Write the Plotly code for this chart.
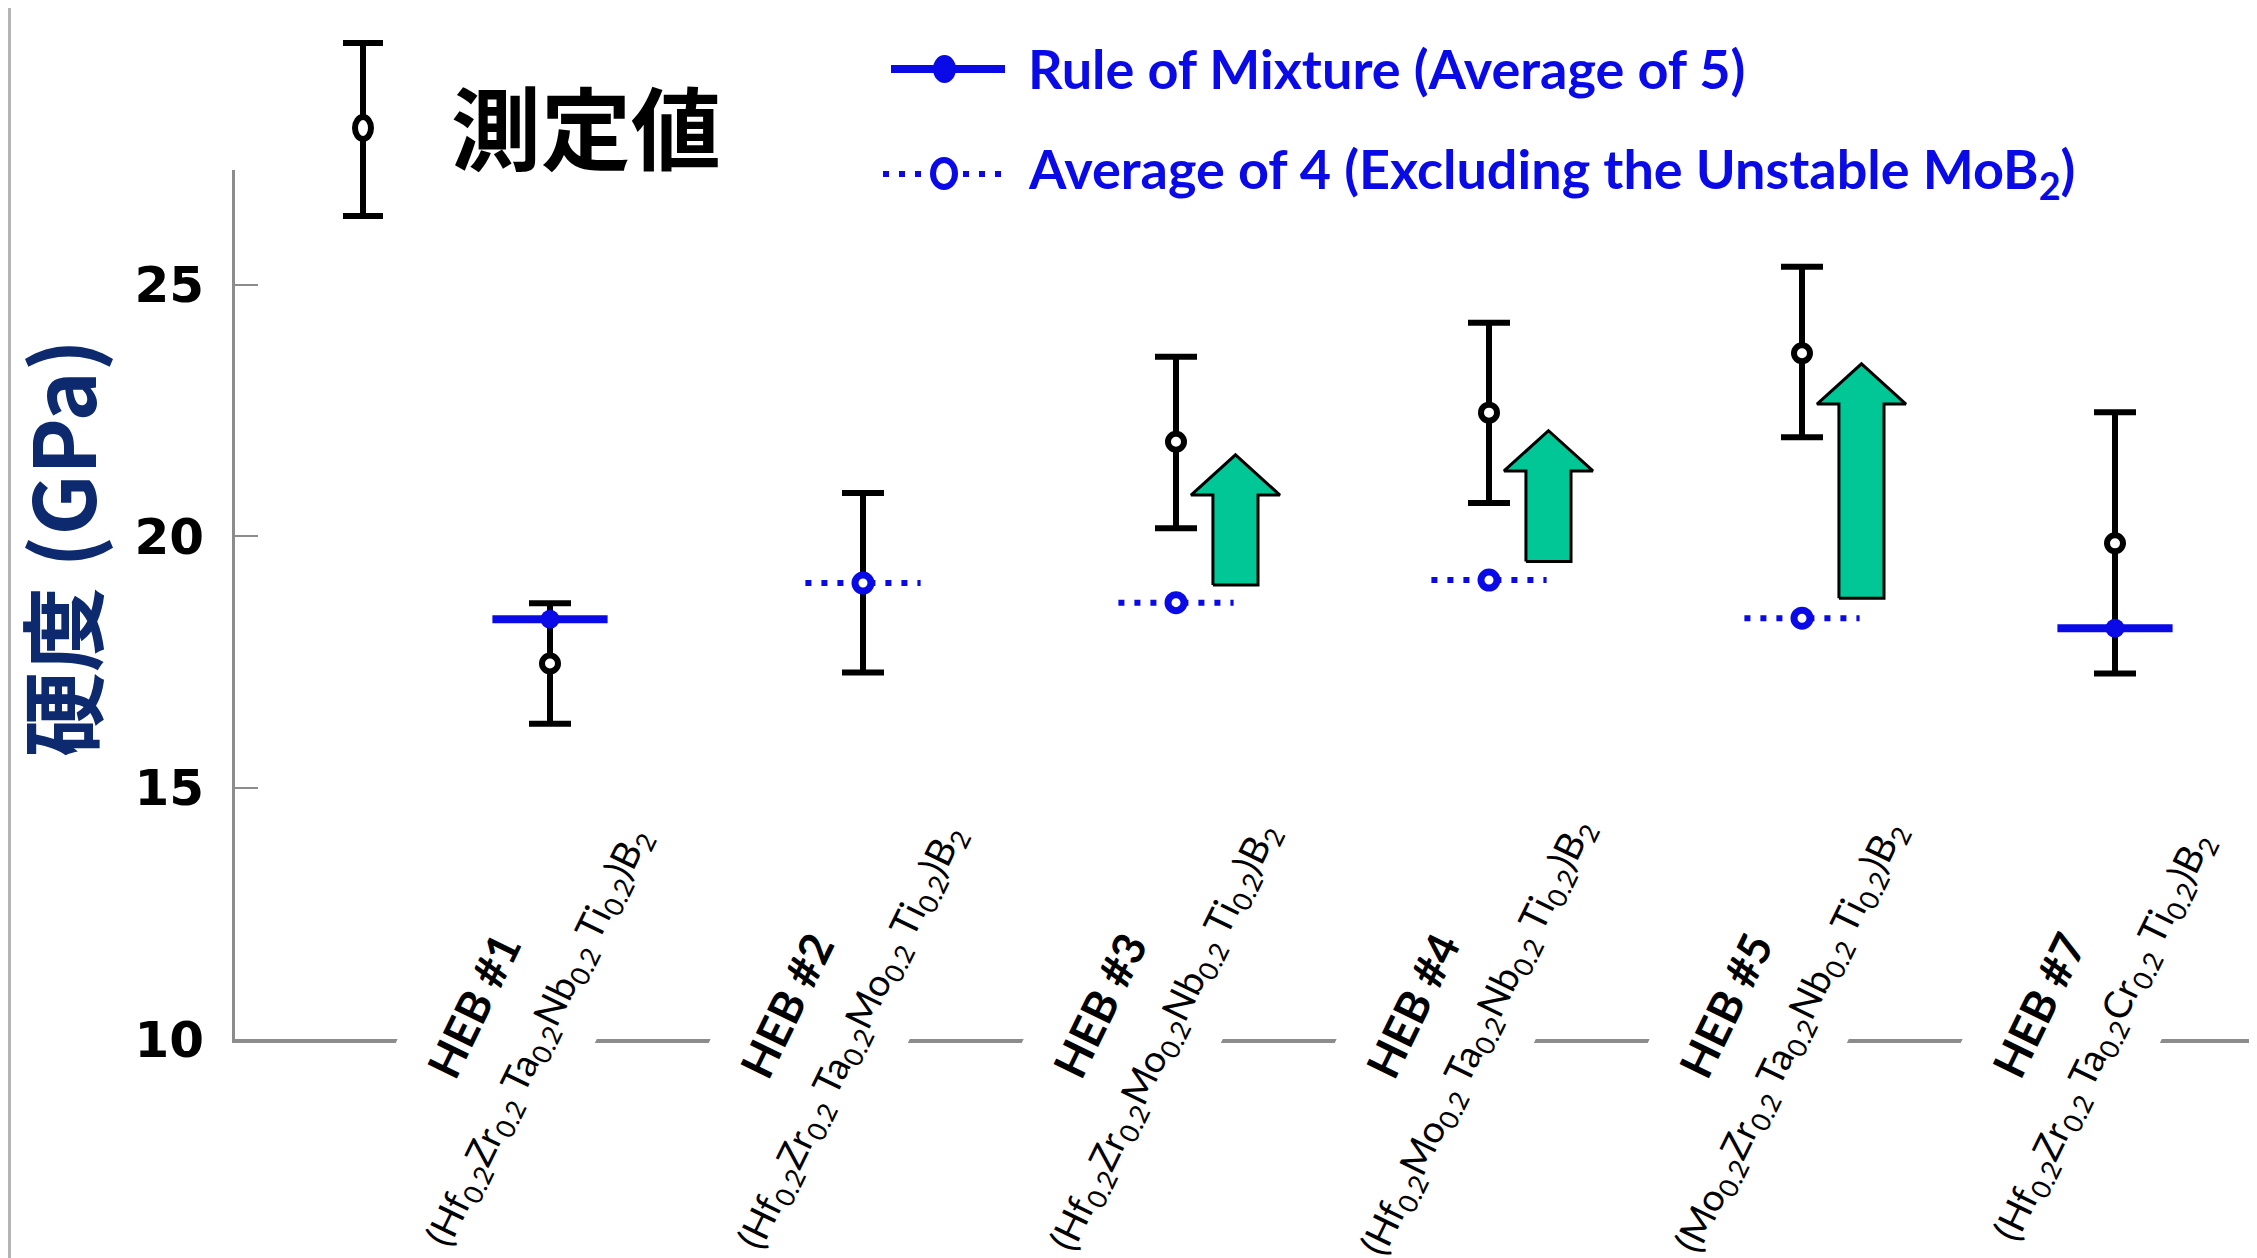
import plotly.graph_objects as go

# ---------------- data ----------------
categories = ["HEB #1", "HEB #2", "HEB #3", "HEB #4", "HEB #5", "HEB #7"]
formulas = [
    "(Hf<sub>0.2</sub>Zr<sub>0.2</sub> Ta<sub>0.2</sub>Nb<sub>0.2</sub> Ti<sub>0.2</sub>)B<sub>2</sub>",
    "(Hf<sub>0.2</sub>Zr<sub>0.2</sub> Ta<sub>0.2</sub>Mo<sub>0.2</sub> Ti<sub>0.2</sub>)B<sub>2</sub>",
    "(Hf<sub>0.2</sub>Zr<sub>0.2</sub>Mo<sub>0.2</sub>Nb<sub>0.2</sub> Ti<sub>0.2</sub>)B<sub>2</sub>",
    "(Hf<sub>0.2</sub>Mo<sub>0.2</sub> Ta<sub>0.2</sub>Nb<sub>0.2</sub> Ti<sub>0.2</sub>)B<sub>2</sub>",
    "(Mo<sub>0.2</sub>Zr<sub>0.2</sub> Ta<sub>0.2</sub>Nb<sub>0.2</sub> Ti<sub>0.2</sub>)B<sub>2</sub>",
    "(Hf<sub>0.2</sub>Zr<sub>0.2</sub> Ta<sub>0.2</sub>Cr<sub>0.2</sub> Ti<sub>0.2</sub>)B<sub>2</sub>",
]
measured = [17.47, 19.07, 21.88, 22.46, 23.64, 19.86]
measured_upper = [18.67, 20.86, 23.57, 24.25, 25.36, 22.47]
measured_lower = [16.27, 17.29, 20.16, 20.66, 21.97, 17.27]
rule_of_mixture = [18.35, None, None, None, None, 18.17]
average_of_4 = [None, 19.07, 18.68, 19.13, 18.37, None]
arrow_base = [None, None, 19.03, 19.50, 18.77, None]
arrow_tip = [None, None, 21.62, 22.10, 23.43, None]
y_ticks = [10, 15, 20, 25]

# ---------------- styling ----------------
OFF = 8                      # page body margin
W, H = 2257 - OFF, 1258 - OFF
PL, PT, PB = 235 - OFF, 170 - OFF, 1039 - OFF   # plot area (figure px)
PX_PER_X = 313.0
PX_PER_Y = 50.27
BLUE = "#0A0AE6"
GREEN = "#00C795"
GRAY = "#8C8C8C"
SEG = 0.184
ARR_DX, ARR_SW, ARR_HW, ARR_HH = 0.19, 0.072, 0.142, 0.80

xs = list(range(1, len(categories) + 1))

fig = go.Figure()

# arrows
for c, b, t in zip(xs, arrow_base, arrow_tip):
    if b is None:
        continue
    cx = c + ARR_DX
    px = [cx - ARR_SW, cx - ARR_SW, cx - ARR_HW, cx, cx + ARR_HW, cx + ARR_SW, cx + ARR_SW, cx - ARR_SW]
    py = [b, t - ARR_HH, t - ARR_HH, t, t - ARR_HH, t - ARR_HH, b, b]
    fig.add_trace(go.Scatter(x=px, y=py, mode="lines", fill="toself", fillcolor=GREEN,
                             line=dict(color="black", width=3), hoverinfo="skip", showlegend=False))

# measured values with error bars
fig.add_trace(go.Scatter(
    x=xs, y=measured, mode="markers", showlegend=False,
    marker=dict(symbol="circle", size=16, color="white", line=dict(color="black", width=6)),
    error_y=dict(type="data", symmetric=False,
                 array=[u - m for u, m in zip(measured_upper, measured)],
                 arrayminus=[m - l for m, l in zip(measured, measured_lower)],
                 color="black", thickness=6, width=21),
))

# rule of mixture (solid)
rx, ry, mx, my = [], [], [], []
for c, v in zip(xs, rule_of_mixture):
    if v is None:
        continue
    rx += [c - SEG, c + SEG, None]
    ry += [v, v, None]
    mx.append(c)
    my.append(v)
fig.add_trace(go.Scatter(x=rx, y=ry, mode="lines", line=dict(color=BLUE, width=8),
                         showlegend=False, hoverinfo="skip"))
fig.add_trace(go.Scatter(x=mx, y=my, mode="markers", showlegend=False,
                         marker=dict(symbol="circle", size=19, color=BLUE, line=dict(width=0))))

# average of 4 (dotted)
ax_, ay_, amx, amy = [], [], [], []
for c, v in zip(xs, average_of_4):
    if v is None:
        continue
    ax_ += [c - SEG, c + SEG, None]
    ay_ += [v, v, None]
    amx.append(c)
    amy.append(v)
fig.add_trace(go.Scatter(x=ax_, y=ay_, mode="lines", line=dict(color=BLUE, width=6, dash="6px,10px"),
                         showlegend=False, hoverinfo="skip"))
fig.add_trace(go.Scatter(x=amx, y=amy, mode="markers", showlegend=False,
                         marker=dict(symbol="circle", size=16, color="white", line=dict(color=BLUE, width=7))))


def fx(p):  # page px -> paper
    return (p - OFF) / W


def fy(p):
    return 1 - (p - OFF) / H


annotations = []
shapes = []

# x category labels: two-line rotated block, white background cuts the axis line
for c, name, f in zip(xs, categories, formulas):
    txt = ("<span style='font-size:45px'><b>" + name + "</b></span><br>"
           "<span style='font-size:38px'>" + f + "</span>")
    annotations.append(dict(x=c, y=10, xref="x", yref="y", text=txt,
                            textangle=-64, xanchor="center", yanchor="middle", align="center",
                            xshift=-44, yshift=18, showarrow=False, bgcolor="white",
                            borderpad=26,
                            font=dict(family="Lato", size=52, color="black")))

# y-axis title
annotations.append(dict(x=fx(59), y=fy(548), xref="paper", yref="paper",
                        text="<b>硬度 (GPa)</b>", textangle=-90, showarrow=False,
                        xanchor="center", yanchor="middle",
                        font=dict(family="Noto Sans CJK JP", size=85, color="#0E2A6E")))

# legend: measured
annotations.append(dict(x=fx(449), y=fy(124), xref="paper", yref="paper",
                        text="<b>測定値</b>", showarrow=False, xanchor="left", yanchor="middle",
                        font=dict(family="Noto Sans CJK JP", size=90, color="black")))
shapes.append(dict(type="line", xref="paper", yref="paper", x0=fx(363), x1=fx(363),
                   y0=fy(43), y1=fy(216), line=dict(color="black", width=6)))
for yy in (43, 216):
    shapes.append(dict(type="line", xref="paper", yref="paper", x0=fx(343), x1=fx(383),
                       y0=fy(yy), y1=fy(yy), line=dict(color="black", width=6)))
shapes.append(dict(type="circle", xref="paper", yref="paper", x0=fx(355), x1=fx(371),
                   y0=fy(117), y1=fy(139), fillcolor="white", line=dict(color="black", width=6)))

# legend: rule of mixture
shapes.append(dict(type="line", xref="paper", yref="paper", x0=fx(891), x1=fx(1005),
                   y0=fy(69), y1=fy(69), line=dict(color=BLUE, width=8)))
shapes.append(dict(type="circle", xref="paper", yref="paper", x0=fx(934), x1=fx(955),
                   y0=fy(56), y1=fy(82), fillcolor=BLUE, line=dict(color=BLUE, width=2)))
annotations.append(dict(x=fx(1026), y=fy(68), xref="paper", yref="paper",
                        text="<b>Rule of Mixture (Average of 5)</b>", showarrow=False,
                        xanchor="left", yanchor="middle",
                        font=dict(family="Lato", size=54, color=BLUE)))

# legend: average of 4
shapes.append(dict(type="line", xref="paper", yref="paper", x0=fx(883), x1=fx(1003),
                   y0=fy(174), y1=fy(174), line=dict(color=BLUE, width=6, dash="6px,10px")))
shapes.append(dict(type="circle", xref="paper", yref="paper", x0=fx(933), x1=fx(955),
                   y0=fy(160), y1=fy(187), fillcolor="white", line=dict(color=BLUE, width=6)))
annotations.append(dict(x=fx(1026), y=fy(172), xref="paper", yref="paper",
                        text="<b>Average of 4 (Excluding the Unstable MoB<sub>2</sub>)</b>",
                        showarrow=False, xanchor="left", yanchor="middle",
                        font=dict(family="Lato", size=54, color=BLUE)))

# left slide border
shapes.append(dict(type="line", xref="paper", yref="paper", x0=fx(9.5), x1=fx(9.5), y0=0, y1=1,
                   line=dict(color="#B4B4B4", width=3)))

x0 = 1 - (550 - OFF - PL) / PX_PER_X
x1 = x0 + (W - PL) / PX_PER_X

fig.update_layout(
    width=W, height=H,
    margin=dict(l=0, r=0, t=0, b=0),
    paper_bgcolor="white", plot_bgcolor="white",
    showlegend=False,
    xaxis=dict(domain=[PL / W, 1.0], range=[x0, x1], showgrid=False, zeroline=False,
               showline=True, linecolor=GRAY, linewidth=4, showticklabels=False, ticks="",
               automargin=False, fixedrange=True),
    yaxis=dict(domain=[1 - PB / H, 1 - PT / H], range=[10, 10 + (PB - PT) / PX_PER_Y],
               showgrid=False, zeroline=False, showline=True, linecolor=GRAY, linewidth=3,
               tickmode="array", tickvals=y_ticks, ticktext=[str(t) for t in y_ticks],
               ticks="inside", ticklen=23, tickwidth=2, tickcolor=GRAY,
               ticklabelstandoff=18,
               tickfont=dict(family="DejaVu Sans", size=50, color="black", weight="bold"),
               automargin=False, fixedrange=True),
    annotations=annotations,
    shapes=shapes,
)

fig.write_html("out.html")
